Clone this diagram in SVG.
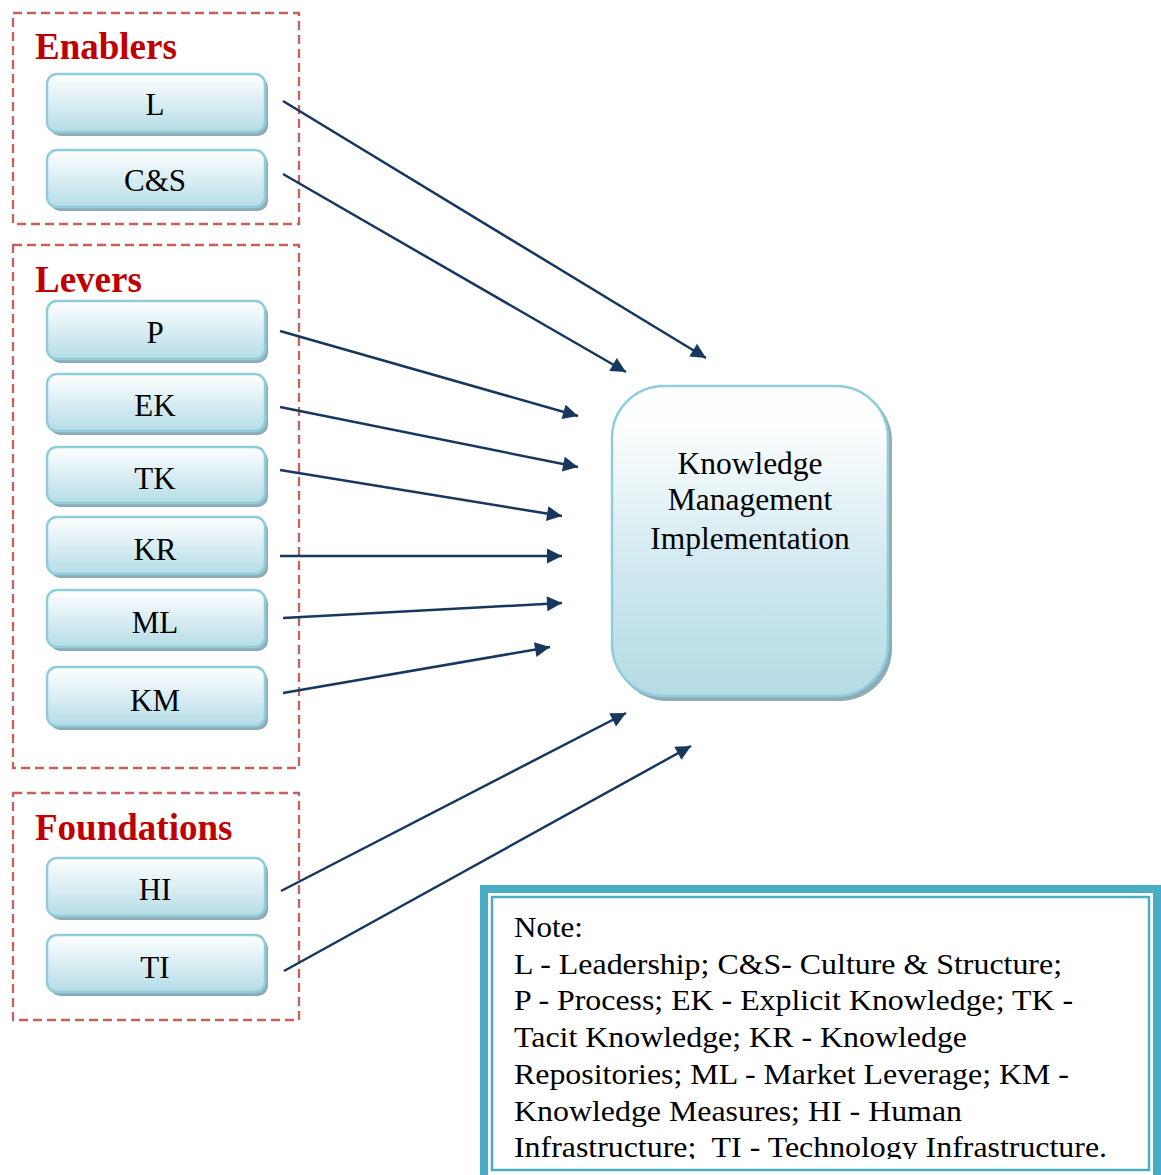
<svg xmlns="http://www.w3.org/2000/svg" width="1161" height="1175" viewBox="0 0 1161 1175">
  <defs>
    <linearGradient id="nodeFill" x1="0" y1="0" x2="0" y2="1">
      <stop offset="0" stop-color="#ffffff"/>
      <stop offset="0.55" stop-color="#d6ecf2"/>
      <stop offset="1" stop-color="#b5dce6"/>
    </linearGradient>
    <linearGradient id="mainFill" x1="0" y1="0" x2="0" y2="1">
      <stop offset="0" stop-color="#ffffff"/>
      <stop offset="0.12" stop-color="#fdfefe"/>
      <stop offset="0.6" stop-color="#cfe8ef"/>
      <stop offset="1" stop-color="#b4dbe5"/>
    </linearGradient>
    <marker id="arrow" viewBox="0 0 10 10" refX="10" refY="5" markerWidth="6.5" markerHeight="6" markerUnits="strokeWidth" orient="auto">
      <path d="M0,0 L10,5 L0,10 z" fill="#17375e"/>
    </marker>
    <clipPath id="noteClip">
      <rect x="494" y="899" width="655" height="260"/>
    </clipPath>
  </defs>
  <style>
    .group { fill: none; stroke: #c0504d; stroke-width: 2.3; stroke-dasharray: 9 5; opacity: 0.9; }
    .title { font-family: "Liberation Serif", "Times New Roman", serif; font-weight: bold; font-size: 37px; fill: #c00000; }
    .shadow { fill: #8facb3; }
    .node { fill: url(#nodeFill); stroke: #8fcddc; stroke-width: 2.5; }
    .main { fill: url(#mainFill); stroke: #8fcddc; stroke-width: 2.5; }
    .label { font-family: "Liberation Serif", "Times New Roman", serif; font-size: 31px; fill: #000; text-anchor: middle; }
    .big { font-size: 31.5px; }
    .edge { fill: none; stroke: #17375e; stroke-width: 2.5; marker-end: url(#arrow); }
    .note { font-family: "Liberation Serif", "Times New Roman", serif; font-size: 30px; fill: #000; }
  </style>

  <rect width="1161" height="1175" fill="#ffffff"/>

  <!-- dashed category frames -->
  <g id="enablers">
    <rect class="group" x="13" y="13" width="286" height="211"/>
    <text class="title" x="35" y="59">Enablers</text>
  </g>
  <g id="levers">
    <rect class="group" x="13" y="245" width="286" height="523"/>
    <text class="title" x="35" y="292">Levers</text>
  </g>
  <g id="foundations">
    <rect class="group" x="13" y="793" width="286" height="227"/>
    <text class="title" x="35" y="840">Foundations</text>
  </g>

  <!-- factor nodes -->
  <g id="node-L">
    <rect class="shadow" x="50" y="77" width="218" height="59" rx="10"/>
    <rect class="node" x="47" y="74" width="218" height="58" rx="10"/>
    <text class="label" x="155" y="115">L</text>
  </g>
  <g id="node-CS">
    <rect class="shadow" x="50" y="153" width="218" height="58" rx="10"/>
    <rect class="node" x="47" y="150" width="218" height="57" rx="10"/>
    <text class="label" x="155" y="191">C&amp;S</text>
  </g>
  <g id="node-P">
    <rect class="shadow" x="50" y="304" width="218" height="59" rx="10"/>
    <rect class="node" x="47" y="301" width="218" height="58" rx="10"/>
    <text class="label" x="155" y="343">P</text>
  </g>
  <g id="node-EK">
    <rect class="shadow" x="50" y="377" width="218" height="58" rx="10"/>
    <rect class="node" x="47" y="374" width="218" height="57" rx="10"/>
    <text class="label" x="155" y="416">EK</text>
  </g>
  <g id="node-TK">
    <rect class="shadow" x="50" y="450" width="218" height="57" rx="10"/>
    <rect class="node" x="47" y="447" width="218" height="56" rx="10"/>
    <text class="label" x="155" y="489">TK</text>
  </g>
  <g id="node-KR">
    <rect class="shadow" x="50" y="520" width="218" height="58" rx="10"/>
    <rect class="node" x="47" y="517" width="218" height="57" rx="10"/>
    <text class="label" x="155" y="560">KR</text>
  </g>
  <g id="node-ML">
    <rect class="shadow" x="50" y="593" width="218" height="58" rx="10"/>
    <rect class="node" x="47" y="590" width="218" height="57" rx="10"/>
    <text class="label" x="155" y="633">ML</text>
  </g>
  <g id="node-KM">
    <rect class="shadow" x="50" y="670" width="218" height="60" rx="10"/>
    <rect class="node" x="47" y="667" width="218" height="59" rx="10"/>
    <text class="label" x="155" y="711">KM</text>
  </g>
  <g id="node-HI">
    <rect class="shadow" x="50" y="861" width="218" height="59" rx="10"/>
    <rect class="node" x="47" y="858" width="218" height="58" rx="10"/>
    <text class="label" x="155" y="900">HI</text>
  </g>
  <g id="node-TI">
    <rect class="shadow" x="50" y="938" width="218" height="58" rx="10"/>
    <rect class="node" x="47" y="935" width="218" height="57" rx="10"/>
    <text class="label" x="155" y="978">TI</text>
  </g>

  <!-- central outcome -->
  <g id="node-KMI">
    <rect class="shadow" x="615" y="389" width="277" height="312" rx="52"/>
    <rect class="main" x="612" y="386" width="276" height="310" rx="52"/>
    <text class="label big" x="750" y="474">Knowledge</text>
    <text class="label big" x="750" y="510">Management</text>
    <text class="label big" x="750" y="549">Implementation</text>
  </g>

  <!-- connectors -->
  <g id="connectors">
    <line class="edge" x1="283" y1="101" x2="706" y2="358"/>
    <line class="edge" x1="283" y1="174" x2="626" y2="372"/>
    <line class="edge" x1="280" y1="331" x2="578" y2="416"/>
    <line class="edge" x1="280" y1="407" x2="578" y2="467"/>
    <line class="edge" x1="280" y1="470" x2="562" y2="516"/>
    <line class="edge" x1="280" y1="556" x2="562" y2="556"/>
    <line class="edge" x1="283" y1="618" x2="562" y2="603"/>
    <line class="edge" x1="283" y1="693" x2="550" y2="647"/>
    <line class="edge" x1="281" y1="891" x2="626" y2="713"/>
    <line class="edge" x1="284" y1="971" x2="691" y2="746"/>
  </g>

  <!-- abbreviation key -->
  <g id="note">
    <rect x="484" y="889" width="673" height="290" fill="#ffffff" stroke="#4bacc6" stroke-width="8"/>
    <rect x="492" y="897" width="657" height="273" fill="none" stroke="#4bacc6" stroke-width="2.5"/>
    <g clip-path="url(#noteClip)">
      <text class="note" x="514" y="937" textLength="69" lengthAdjust="spacingAndGlyphs">Note:</text>
      <text class="note" x="514" y="974" textLength="548" lengthAdjust="spacingAndGlyphs">L - Leadership; C&amp;S- Culture &amp; Structure;</text>
      <text class="note" x="514" y="1010" textLength="559" lengthAdjust="spacingAndGlyphs">P - Process; EK - Explicit Knowledge; TK -</text>
      <text class="note" x="514" y="1047" textLength="453" lengthAdjust="spacingAndGlyphs">Tacit Knowledge; KR - Knowledge</text>
      <text class="note" x="514" y="1084" textLength="555" lengthAdjust="spacingAndGlyphs">Repositories; ML - Market Leverage; KM -</text>
      <text class="note" x="514" y="1121" textLength="448" lengthAdjust="spacingAndGlyphs">Knowledge Measures; HI - Human</text>
      <text class="note" x="514" y="1157" textLength="593" lengthAdjust="spacingAndGlyphs" xml:space="preserve">Infrastructure;  TI - Technology Infrastructure.</text>
    </g>
  </g>
</svg>
